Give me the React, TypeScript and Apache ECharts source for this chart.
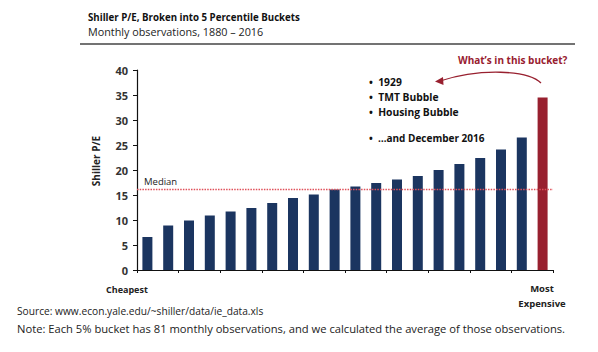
import React, { useEffect, useRef } from "react";
import * as echarts from "echarts";

const buckets = Array.from({ length: 20 }, (_, i) => `B${i + 1}`);
const peValues = [6.6, 8.9, 9.9, 10.9, 11.7, 12.4, 13.4, 14.4, 15.1, 16.1, 16.7, 17.4, 18.1, 18.8, 20.0, 21.2, 22.4, 24.1, 26.5, 34.5];
const medianValue = 16.2;
const yTicks = [0, 5, 10, 15, 20, 25, 30, 35, 40];
const bulletItems = ["•  1929", "•  TMT Bubble", "•  Housing Bubble"];
const lastBullet = "•  …and December 2016";

const NAVY = "#1b3560";
const RED = "#98202f";
const FONT = "'Open Sans', 'Noto Sans', sans-serif";

export default function App() {
  const ref = useRef<HTMLDivElement>(null);
  useEffect(() => {
    if (!ref.current) return;
    const chart = echarts.init(ref.current, null, { renderer: "svg" });
    const textStyle = (x: number, y: number, text: string, size: number, weight: any, fill: string, align = "left") => ({
      type: "text",
      x,
      y,
      style: { text, fontSize: size, fontWeight: weight, fill, fontFamily: FONT, textAlign: align, textVerticalAlign: "middle" },
    });
    chart.setOption({
      animation: false,
      backgroundColor: "#ffffff",
      grid: { left: 137, right: 45, top: 70, bottom: 82, containLabel: false },
      xAxis: {
        type: "category",
        data: buckets,
        axisLine: { lineStyle: { color: "#111", width: 1.2 } },
        axisTick: { show: true, alignWithLabel: false, length: 3, lineStyle: { color: "#111" } },
        axisLabel: { show: false },
      },
      yAxis: {
        type: "value",
        min: yTicks[0],
        max: yTicks[yTicks.length - 1],
        interval: 5,
        axisLine: { show: true, lineStyle: { color: "#111", width: 1.2 } },
        axisTick: { show: true, length: 4, lineStyle: { color: "#111" } },
        splitLine: { show: false },
        axisLabel: { fontSize: 11, fontWeight: "bold", color: "#333", fontFamily: FONT, margin: 9 },
      },
      series: [
        {
          type: "bar",
          data: peValues.map((v, i) => ({
            value: v,
            itemStyle: { color: i === peValues.length - 1 ? RED : NAVY },
          })),
          barWidth: 10,
          markLine: {
            symbol: "none",
            silent: true,
            label: { show: false },
            lineStyle: { color: "#e0505a", type: [1.5, 1.2], width: 1.3, opacity: 1 },
            data: [{ yAxis: medianValue }],
          },
        },
      ],
      graphic: [
        {
          type: "text",
          x: 96,
          y: 161,
          rotation: Math.PI / 2,
          style: { text: "Shiller P/E", fontSize: 10, fontWeight: "bold", fill: "#222", fontFamily: FONT, textAlign: "center", textVerticalAlign: "middle" },
        },
        textStyle(88, 17, "Shiller P/E, Broken into 5 Percentile Buckets", 9.7, "bold", "#111"),
        textStyle(88, 31, "Monthly observations, 1880 – 2016", 10.8, "normal", "#222"),
        { type: "line", shape: { x1: 80, y1: 44, x2: 575, y2: 44 }, style: { stroke: "#444", lineWidth: 1.5 } },
        textStyle(144, 181, "Median", 9.5, "normal", "#222"),
        textStyle(458, 60, "What’s in this bucket?", 10, "bold", RED),
        ...bulletItems.map((t, i) => textStyle(369, 82 + i * 15, t, 10.3, "bold", "#111")),
        textStyle(369, 138, lastBullet, 10, "bold", "#111"),
        {
          type: "bezierCurve",
          shape: { x1: 541, y1: 83, cpx1: 528, cpy1: 70, cpx2: 480, cpy2: 68, x2: 440, y2: 81 },
          style: { stroke: RED, lineWidth: 1.3, fill: null },
        },
        { type: "polygon", shape: { points: [[435, 81.5], [443, 77], [443.5, 85]] }, style: { fill: RED } },
        textStyle(106, 289, "Cheapest", 9, "bold", "#222"),
        textStyle(542, 288, "Most", 9.5, "bold", "#222", "center"),
        textStyle(542, 303, "Expensive", 9.5, "bold", "#222", "center"),
        textStyle(17, 311, "Source: www.econ.yale.edu/~shiller/data/ie_data.xls", 10.2, "normal", "#222"),
        textStyle(17, 328, "Note: Each 5% bucket has 81 monthly observations, and we calculated the average of those observations.", 11.2, "normal", "#222"),
      ],
    });
    return () => chart.dispose();
  }, []);
  return <div ref={ref} style={{ width: 598, height: 352, position: "absolute", left: 0, top: 0 }} />;
}
